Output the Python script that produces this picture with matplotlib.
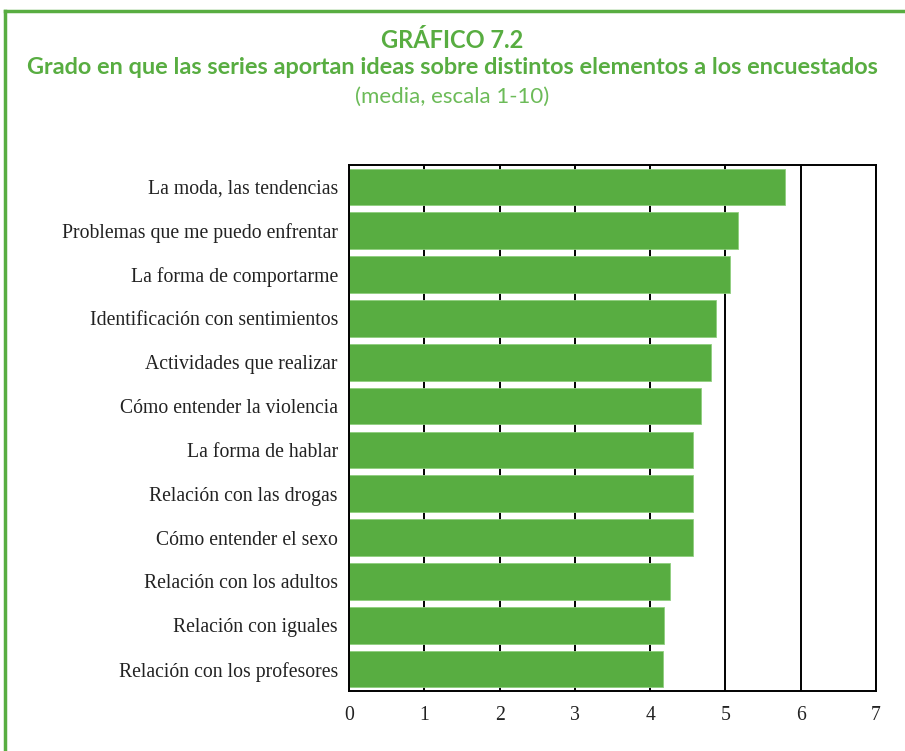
import matplotlib.pyplot as plt
from matplotlib.lines import Line2D

etiquetas = ["La moda, las tendencias", "Problemas que me puedo enfrentar",
             "La forma de comportarme", "Identificación con sentimientos",
             "Actividades que realizar", "Cómo entender la violencia",
             "La forma de hablar", "Relación con las drogas",
             "Cómo entender el sexo", "Relación con los adultos",
             "Relación con iguales", "Relación con los profesores"]
valores = [5.79, 5.17, 5.06, 4.88, 4.81, 4.68, 4.57, 4.57, 4.57, 4.27, 4.19, 4.17]
ticks_x = [0, 1, 2, 3, 4, 5, 6, 7]

verde = "#58ad41"
titulo_font = ["Lato", "DejaVu Sans"]

fig = plt.figure(figsize=(9.05, 7.51), dpi=100)
ax = fig.add_axes([349/905, 1 - 691/751, 527/905, 526/751])

pos = list(range(len(etiquetas)))
ax.barh(pos, valores, height=0.84, color=verde, edgecolor="#8fcf7e", linewidth=0.6, zorder=2)
ax.set_ylim(len(etiquetas) - 0.5, -0.5)
ax.set_xlim(0, 7)
ax.set_xticks(ticks_x)
ax.set_yticks(pos)
ax.set_yticklabels(etiquetas)
ax.grid(axis="x", color="black", linewidth=1.4, zorder=1)
ax.set_axisbelow(True)
ax.tick_params(axis="y", length=0, labelsize=14.2, pad=8)
ax.tick_params(axis="x", length=0, labelsize=14.2, pad=11)
for lab in ax.get_xticklabels() + ax.get_yticklabels():
    lab.set_family("Liberation Serif")
    lab.set_color("#222222")
for s in ax.spines.values():
    s.set_linewidth(1.4)
    s.set_color("black")

t1 = fig.text(0.5, 1 - 40/751, "GRÁFICO 7.2", ha="center", va="center",
              color=verde, fontsize=17, fontweight="bold", family=titulo_font)
t2 = fig.text(0.5, 1 - 68/751, "Grado en que las series aportan ideas sobre distintos elementos a los encuestados",
              ha="center", va="center", color=verde, fontsize=15, fontweight="bold", family=titulo_font)
t3 = fig.text(0.5, 1 - 97/751, "(media, escala 1-10)", ha="center", va="center",
              color="#6cbb58", fontsize=16, family=titulo_font)

# ajustar el subtitulo al ancho del original (~855 px)
r = fig.canvas.get_renderer()
w = t2.get_window_extent(renderer=r).width
t2.set_fontsize(15 * 855 / w)

# marco verde
fig.add_artist(Line2D([5/905, 5/905], [0, 1 - 11/751], color=verde, linewidth=2.5, transform=fig.transFigure))
fig.add_artist(Line2D([5/905, 1], [1 - 11/751, 1 - 11/751], color=verde, linewidth=2.5, transform=fig.transFigure))

plt.savefig("out.png")
